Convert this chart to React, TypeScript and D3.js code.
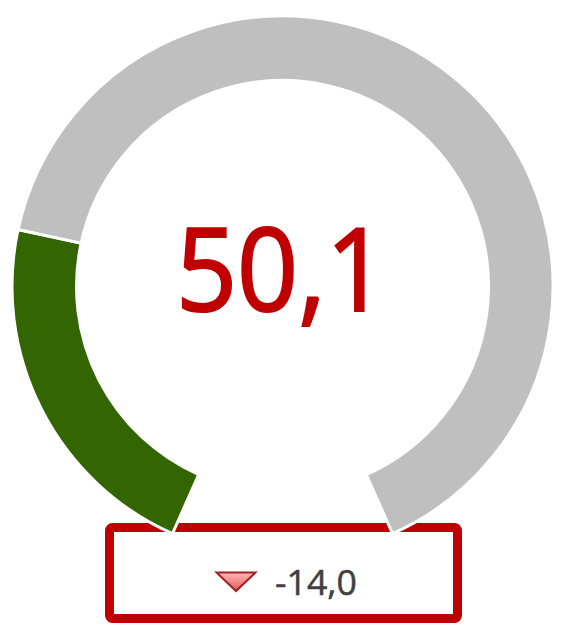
import React from "react";
import * as d3 from "d3";

// gauge data
const gaugeMax = 200;
const gaugeValue = 50.1;
const changeValue = -14.0;
const segmentNames = ["value", "rest"];
const segmentColors = ["#336600", "#BFBFBF"];

const W = 563;
const H = 625;

const fmt = d3
  .formatLocale({ decimal: ",", thousands: ".", grouping: [3], currency: ["", ""], minus: "-" })
  .format(".1f");

export default function App() {
  const cx = 282.5;
  const cy = 286.5;
  const rOuter = 270.5;
  const rInner = 206;
  const startA = (-156 * Math.PI) / 180;
  const endA = (156 * Math.PI) / 180;

  const segValues = [gaugeValue, gaugeMax - gaugeValue];
  const pie = d3
    .pie<number>()
    .sort(null)
    .value((d) => d)
    .startAngle(startA)
    .endAngle(endA);
  const arcs = pie(segValues);
  const arc: any = d3.arc().innerRadius(rInner).outerRadius(rOuter);

  const font = "'Open Sans', 'Noto Sans', sans-serif";

  return (
    <svg
      width={W}
      height={H}
      style={{ position: "absolute", left: 0, top: 0 }}
    >
      <defs>
        <linearGradient id="tri" x1="0" y1="0" x2="0" y2="1">
          <stop offset="0%" stopColor="#FFB8B8" />
          <stop offset="100%" stopColor="#E05A5C" />
        </linearGradient>
      </defs>
      <rect width={W} height={H} fill="#ffffff" />

      {/* change box */}
      <rect
        x={109.5}
        y={527.5}
        width={348}
        height={91}
        rx={3}
        fill="#ffffff"
        stroke="#C00000"
        strokeWidth={9}
      />

      <g transform={`translate(${cx},${cy})`}>
        {arcs.map((a, i) => (
          <path
            key={segmentNames[i]}
            d={arc(a)}
            fill={segmentColors[i]}
            stroke="#ffffff"
            strokeWidth={3}
          />
        ))}
      </g>

      <text
        x={281.5}
        y={311}
        textAnchor="middle"
        fontFamily={font}
        fontSize={116}
        fill="#C00000"
        stroke="#C00000"
        strokeWidth={2.2}
        textLength={211}
        lengthAdjust="spacingAndGlyphs"
      >
        {fmt(gaugeValue)}
      </text>

      {/* down arrow icon */}
      <path
        d="M216.5,572.5 L255.5,572.5 L236,591 Z"
        fill="url(#tri)"
        stroke="#9E2424"
        strokeWidth={2}
        strokeLinejoin="miter"
      />
      <text
        x={275}
        y={595}
        fontFamily={font}
        fontSize={35}
        fill="#404040"
        stroke="#404040"
        strokeWidth={0.5}
        textLength={82}
        lengthAdjust="spacingAndGlyphs"
      >
        {fmt(changeValue)}
      </text>
    </svg>
  );
}
